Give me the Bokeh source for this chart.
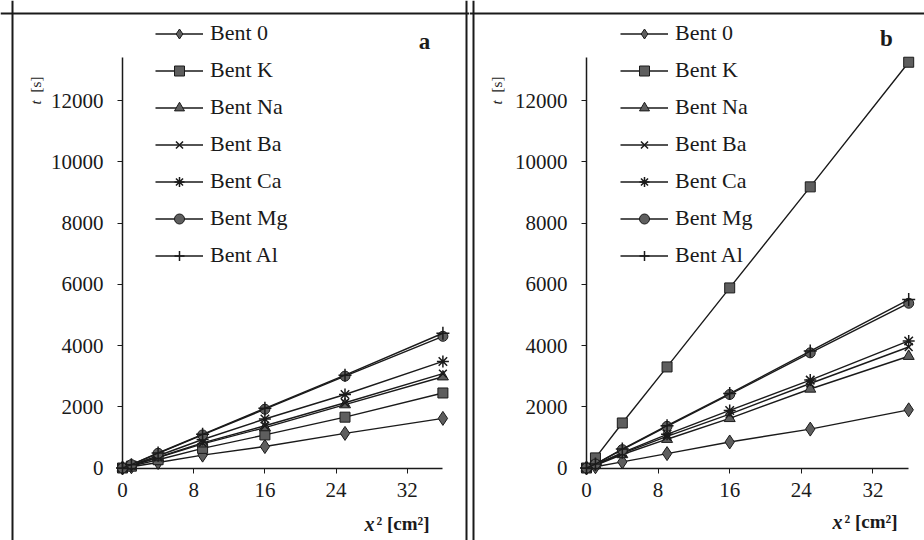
import numpy as np
from bokeh.plotting import figure
from bokeh.layouts import row
from bokeh.models import Range1d, FixedTicker, Span, Label, Legend, LegendItem
from bokeh.embed import file_html
from bokeh.resources import INLINE

# ---------------- data ----------------
x_sq = [0, 1, 4, 9, 16, 25, 36]
series_names = ["Bent 0", "Bent K", "Bent Na", "Bent Ba", "Bent Ca", "Bent Mg", "Bent Al"]

a_bent0 = [0, 40, 180, 420, 700, 1130, 1620]
a_bentK = [0, 60, 270, 640, 1080, 1660, 2450]
a_bentNa = [0, 80, 340, 790, 1320, 2070, 2980]
a_bentBa = [0, 80, 350, 820, 1380, 2130, 3080]
a_bentCa = [0, 90, 400, 930, 1600, 2400, 3480]
a_bentMg = [0, 110, 480, 1080, 1920, 3000, 4300]
a_bentAl = [0, 110, 490, 1100, 1950, 3030, 4400]

b_bent0 = [0, 40, 200, 470, 850, 1270, 1900]
b_bentK = [0, 330, 1470, 3300, 5880, 9180, 13250]
b_bentNa = [0, 90, 440, 940, 1620, 2580, 3650]
b_bentBa = [0, 100, 480, 1030, 1760, 2760, 3950]
b_bentCa = [0, 110, 500, 1100, 1880, 2870, 4150]
b_bentMg = [0, 130, 600, 1360, 2400, 3760, 5380]
b_bentAl = [0, 130, 620, 1380, 2430, 3820, 5500]

y_ticks = [0, 2000, 4000, 6000, 8000, 10000, 12000]
x_ticks = [0, 8, 16, 24, 32]
x_axis_max = 36
y_axis_max = 13400

# ---------------- style ----------------
H = 540
Y0 = 467.5          # pixel row of t = 0
YS = 0.030625       # px per second
FONT = "Liberation Serif"
INK = "#1a1a1a"
FILL = "#5e5e5e"

MARKERS = [
    dict(marker="diamond", size=14, fill_color=FILL, line_color=INK, line_width=1),
    dict(marker="square", size=10, fill_color=FILL, line_color=INK, line_width=1),
    dict(marker="triangle", size=11, fill_color=FILL, line_color=INK, line_width=1),
    dict(marker="x", size=11, line_color=INK, line_width=1.5),
    dict(marker="asterisk", size=12, line_color=INK, line_width=1.5),
    dict(marker="circle", size=10, fill_color=FILL, line_color=INK, line_width=1),
    dict(marker="cross", size=13, line_color=INK, line_width=1.5),
]


def build_panel(width, axis_px, xs, series, letter, letter_xy, tlab_x, xlab_left, xlab_y,
                vborders, legend_x):
    def X(px):
        return (px - axis_px) / xs

    def Y(py):
        return (Y0 - py) / YS

    p = figure(width=width, height=H, x_range=Range1d(X(0), X(width)),
               y_range=Range1d(Y(H), Y(0)), output_backend="svg",
               toolbar_location=None, tools="", min_border=0,
               min_border_left=0, min_border_right=0, min_border_top=0, min_border_bottom=0)
    p.outline_line_color = None
    p.background_fill_color = "white"
    p.border_fill_color = "white"
    p.xgrid.visible = False
    p.ygrid.visible = False

    for ax in (p.xaxis, p.yaxis):
        ax.fixed_location = 0
        ax.axis_line_color = INK
        ax.axis_line_width = 1.5
        ax.major_tick_line_color = INK
        ax.major_tick_in = 0
        ax.major_tick_out = 5
        ax.minor_tick_line_color = None
        ax.major_label_text_font = FONT
        ax.major_label_text_font_size = "21px"
        ax.major_label_text_color = INK
    p.xaxis.ticker = FixedTicker(ticks=x_ticks)
    p.yaxis.ticker = FixedTicker(ticks=y_ticks)
    p.xaxis.bounds = (0, x_axis_max)
    p.yaxis.bounds = (0, y_axis_max)
    p.xaxis.major_label_standoff = 10
    p.yaxis.major_label_standoff = 14

    items = []
    for name, vals, mk in zip(series_names, series, MARKERS):
        lr = p.line(x_sq, vals, line_color=INK, line_width=1.4)
        sr = p.scatter(x_sq, vals, **mk)
        items.append(LegendItem(label=name, renderers=[lr, sr]))

    legend = Legend(items=items, location=(legend_x, H - 268), padding=0, margin=0,
                    spacing=11, glyph_width=48, glyph_height=25, label_height=25,
                    label_standoff=7, label_text_font=FONT, label_text_font_size="22px",
                    label_text_color=INK, border_line_color=None, background_fill_alpha=0)
    p.add_layout(legend)

    # panel borders
    for bx in vborders:
        p.add_layout(Span(location=X(bx), dimension="height", line_color=INK, line_width=2))
    p.add_layout(Span(location=Y(13), dimension="width", line_color=INK, line_width=2))

    # panel letter
    p.add_layout(Label(x=X(letter_xy[0]), y=Y(letter_xy[1]), text=letter, text_font=FONT,
                       text_font_size="23px", text_font_style="bold", text_color=INK,
                       text_align="center", text_baseline="middle"))
    # y axis title (rotated)
    p.add_layout(Label(x=X(tlab_x), y=Y(102), text="t", text_font=FONT, text_font_size="15px",
                       text_font_style="italic", text_color=INK, angle=np.pi / 2,
                       text_align="center", text_baseline="middle"))
    p.add_layout(Label(x=X(tlab_x), y=Y(84), text="[s]", text_font=FONT, text_font_size="15px",
                       text_color=INK, angle=np.pi / 2,
                       text_align="center", text_baseline="middle"))
    # x axis title
    p.add_layout(Label(x=X(xlab_left), y=Y(xlab_y), text="x", text_font=FONT,
                       text_font_size="20px", text_font_style="bold italic", text_color=INK,
                       text_align="left", text_baseline="middle"))
    p.add_layout(Label(x=X(xlab_left + 12), y=Y(xlab_y), text="² [cm²]", text_font=FONT,
                       text_font_size="19px", text_font_style="bold", text_color=INK,
                       text_align="left", text_baseline="middle"))
    return p


series_a = [a_bent0, a_bentK, a_bentNa, a_bentBa, a_bentCa, a_bentMg, a_bentAl]
series_b = [b_bent0, b_bentK, b_bentNa, b_bentBa, b_bentCa, b_bentMg, b_bentAl]

WA = 469
WB = 924 - WA
pa = build_panel(WA, 122, 8.9, series_a, "a", (424, 41), 35, 364, 523, [12, 466], 155)
pb = build_panel(WB, 586 - WA, 8.95, series_b, "b", (886 - WA, 38), 496 - WA, 832 - WA, 521,
                 [473 - WA], 620 - WA)

layout = row(pa, pb, spacing=0)
open("out.html", "w").write(file_html(layout, INLINE))
